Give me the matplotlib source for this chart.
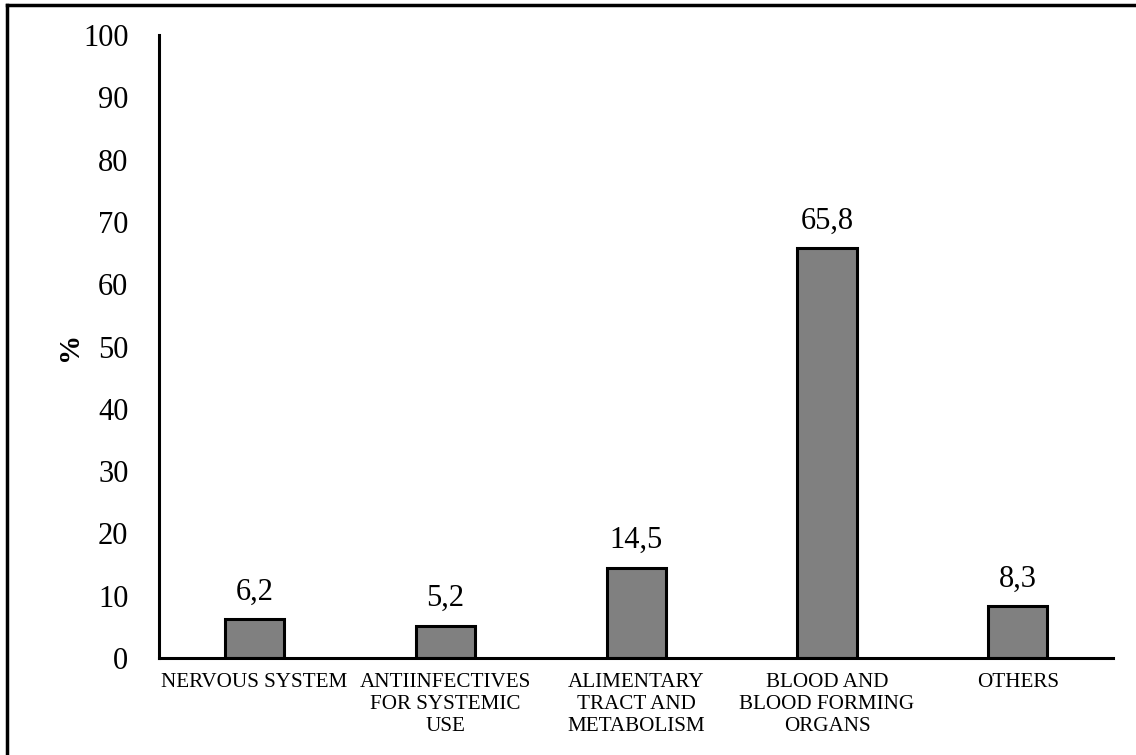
import matplotlib
matplotlib.use("Agg")
import matplotlib.pyplot as plt
from matplotlib.lines import Line2D

categories = ["NERVOUS SYSTEM", "ANTIINFECTIVES\nFOR SYSTEMIC\nUSE",
              "ALIMENTARY\nTRACT AND\nMETABOLISM", "BLOOD AND\nBLOOD FORMING\nORGANS", "OTHERS"]
values = [6.2, 5.2, 14.5, 65.8, 8.3]
value_labels = ["6,2", "5,2", "14,5", "65,8", "8,3"]
yticks = [0, 10, 20, 30, 40, 50, 60, 70, 80, 90, 100]

plt.rcParams['font.family'] = ['Liberation Serif', 'DejaVu Serif']

fig = plt.figure(figsize=(11.36, 7.55), dpi=100)
ax = fig.add_axes([0.140, 0.1285, 0.840, 0.8251])

x = list(range(len(categories)))
bars = ax.bar(x, values, width=0.31, color="#808080", edgecolor="black", linewidth=2.2)
for xi, v, lab in zip(x, values, value_labels):
    ax.annotate(lab, (xi, v), xytext=(0, 9), textcoords="offset points",
                ha="center", va="bottom", fontsize=22)

ax.set_xlim(-0.5, len(categories) - 0.5)
ax.set_ylim(0, 100)
ax.set_yticks(yticks)
ax.set_yticklabels([str(t) for t in yticks], fontsize=22)
ax.set_xticks(x)
ax.set_xticklabels(categories, fontsize=15.2, linespacing=1.22)
ax.tick_params(axis='both', length=0)
ax.tick_params(axis='y', pad=22)
ax.tick_params(axis='x', pad=11)
for s in ["top", "right"]:
    ax.spines[s].set_visible(False)
ax.spines["left"].set_linewidth(2.2)
ax.spines["bottom"].set_linewidth(2.2)
ax.set_ylabel("%", fontsize=21, fontweight="bold", labelpad=0)

# figure border (top and left visible)
fig.add_artist(Line2D([0.0065, 1.0], [0.9935, 0.9935], transform=fig.transFigure, color="black", lw=2.5))
fig.add_artist(Line2D([0.0065, 0.0065], [0.0, 0.9935], transform=fig.transFigure, color="black", lw=2.5))

fig.savefig("out.png", dpi=100)
